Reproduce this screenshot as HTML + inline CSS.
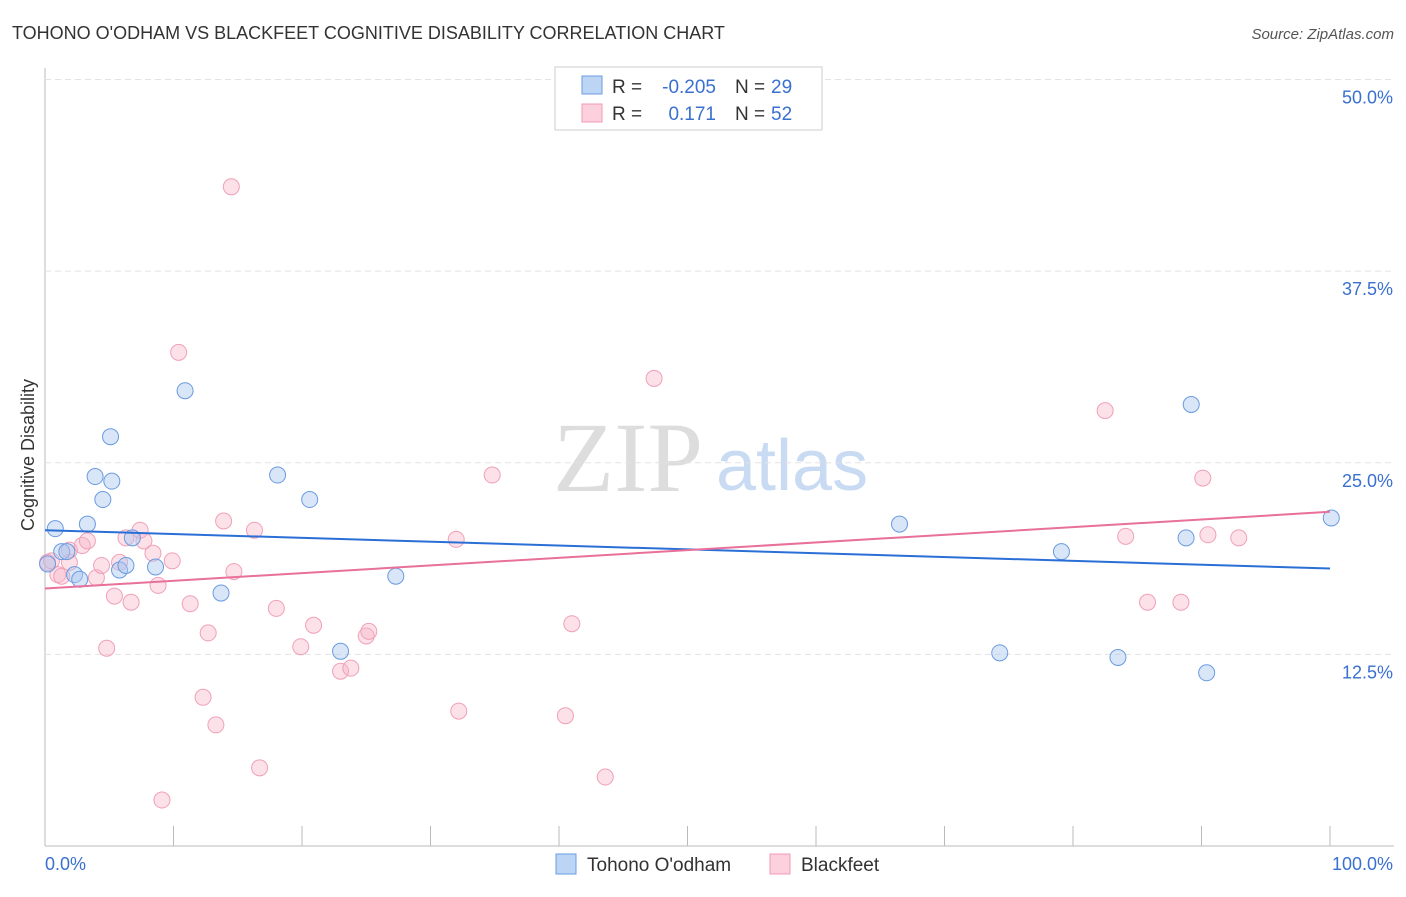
<!DOCTYPE html>
<html><head><meta charset="utf-8"><style>
body{margin:0;background:#fff;font-family:"Liberation Sans",sans-serif;}
svg text{font-family:"Liberation Sans",sans-serif;}
</style></head><body>
<svg id="c" width="1406" height="892" xmlns="http://www.w3.org/2000/svg">
<text x="12" y="39" font-size="18" fill="#333">TOHONO O'ODHAM VS BLACKFEET COGNITIVE DISABILITY CORRELATION CHART</text>
<text x="1394" y="39" font-size="15" fill="#555" text-anchor="end" font-style="italic">Source: ZipAtlas.com</text>
<text x="553" y="491" font-size="100" fill="#ddd" style="font-family:'Liberation Serif',serif">ZIP</text>
<text x="716" y="490" font-size="72" fill="#c8dbf2">atlas</text>
<text transform="translate(34,455) rotate(-90)" font-size="18" fill="#333" text-anchor="middle">Cognitive Disability</text>
<g id="grid"></g><g id="pts"></g><g id="lines"></g>
<g>
<rect x="555" y="67" width="267" height="63" fill="#fff" stroke="#ccc"/>
<rect x="582" y="76" width="20" height="18" fill="#bcd5f5" stroke="#6a9be0"/>
<rect x="582" y="104" width="20" height="18" fill="#fcd0dc" stroke="#f09ab4"/>
<text x="612" y="93" font-size="19" fill="#333">R =</text>
<text x="716" y="93" font-size="19" fill="#3a70d0" text-anchor="end">-0.205</text>
<text x="735" y="93" font-size="19" fill="#333">N =</text>
<text x="771" y="93" font-size="19" fill="#3a70d0">29</text>
<text x="612" y="120" font-size="19" fill="#333">R =</text>
<text x="716" y="120" font-size="19" fill="#3a70d0" text-anchor="end">0.171</text>
<text x="735" y="120" font-size="19" fill="#333">N =</text>
<text x="771" y="120" font-size="19" fill="#3a70d0">52</text>
</g>
<g>
<rect x="556" y="854" width="20" height="20" fill="#bcd5f5" stroke="#6a9be0"/>
<text x="587" y="871" font-size="19" fill="#333">Tohono O'odham</text>
<rect x="770" y="854" width="20" height="20" fill="#fcd0dc" stroke="#f09ab4"/>
<text x="801" y="871" font-size="19" fill="#333">Blackfeet</text>
</g>
<text x="45" y="870" font-size="18" fill="#3a70d0">0.0%</text>
<text x="1393" y="870" font-size="18" fill="#3a70d0" text-anchor="end">100.0%</text>
</svg>
<script>
const yTicks=[12.5,25,37.5,50];
const yTickLabels=["12.5%","25.0%","37.5%","50.0%"];
const blueX=[0.8,1.3,1.7,3.3,2.3,2.7,3.9,4.5,5.1,5.2,5.8,6.3,6.8,8.6,10.9,13.7,18.1,20.6,23.0,27.3,66.5,74.3,79.1,83.5,88.8,89.2,90.4,100.1,0.2];
const blueY=[20.7,19.2,19.2,21.0,17.7,17.4,24.1,22.6,26.7,23.8,18.0,18.3,20.1,18.2,29.7,16.5,24.2,22.6,12.7,17.6,21.0,12.6,19.2,12.3,20.1,28.8,11.3,21.4,18.4];
const pinkX=[0.2,0.5,1.0,1.3,1.9,1.9,2.9,3.3,4.0,4.4,4.8,5.4,5.8,6.3,6.7,7.4,7.7,8.4,8.8,9.1,9.9,10.4,11.3,12.3,12.7,13.3,13.9,14.5,14.7,16.3,16.7,18.0,19.9,20.9,23.0,23.8,25.0,25.2,32.0,32.2,34.8,40.5,41.0,43.6,47.4,82.5,84.1,85.8,88.4,90.1,90.5,92.9];
const pinkY=[18.5,18.6,17.7,17.6,18.5,19.3,19.6,19.9,17.5,18.3,12.9,16.3,18.5,20.1,15.9,20.6,19.9,19.1,17.0,3.0,18.6,32.2,15.8,9.7,13.9,7.9,21.2,43.0,17.9,20.6,5.1,15.5,13.0,14.4,11.4,11.6,13.7,14.0,20.0,8.8,24.2,8.5,14.5,4.5,30.5,28.4,20.2,15.9,15.9,24.0,20.3,20.1];
const blueTrend=[20.6,18.1];
const pinkTrend=[16.8,21.8];
const NS="http://www.w3.org/2000/svg";
const X=v=>45+v*12.85, Y=v=>846-v*15.33;
function mk(t,a,p){const e=document.createElementNS(NS,t);for(const k in a)e.setAttribute(k,a[k]);p.appendChild(e);return e;}
const g=document.getElementById('grid');
mk('line',{x1:45,y1:68,x2:45,y2:846,stroke:'#bbb'},g);
mk('line',{x1:45,y1:846,x2:1394,y2:846,stroke:'#bbb'},g);
for(let i=0;i<=10;i++){const l=mk('line',{x1:X(i*10),y1:826,x2:X(i*10),y2:846,stroke:'#bbb'},g);

}
yTicks.forEach((t,i)=>{const l=mk('line',{x1:45,y1:Y(t),x2:1394,y2:Y(t),stroke:'#e3e3e3','stroke-dasharray':'6,4'},g);


const tx=mk('text',{x:1393,y:Y(t)+24,'font-size':18,fill:'#3a70d0','text-anchor':'end'},g);tx.textContent=yTickLabels[i];

});
const p=document.getElementById('pts');
pinkX.forEach((x,i)=>{const c=mk('circle',{cx:X(x),cy:Y(pinkY[i]),r:8,fill:'rgba(248,180,200,0.4)',stroke:'#f0a0b8','stroke-width':1},p);

});
blueX.forEach((x,i)=>{const c=mk('circle',{cx:X(x),cy:Y(blueY[i]),r:8,fill:'rgba(170,200,240,0.45)',stroke:'#6a9be0','stroke-width':1},p);

});
const L=document.getElementById('lines');
const bl=mk('line',{x1:X(0),y1:Y(blueTrend[0]),x2:X(100),y2:Y(blueTrend[1]),stroke:'#2a6fd6','stroke-width':2},L);


const pl=mk('line',{x1:X(0),y1:Y(pinkTrend[0]),x2:X(100),y2:Y(pinkTrend[1]),stroke:'#e8709a','stroke-width':2},L);


</script>
</body></html>
